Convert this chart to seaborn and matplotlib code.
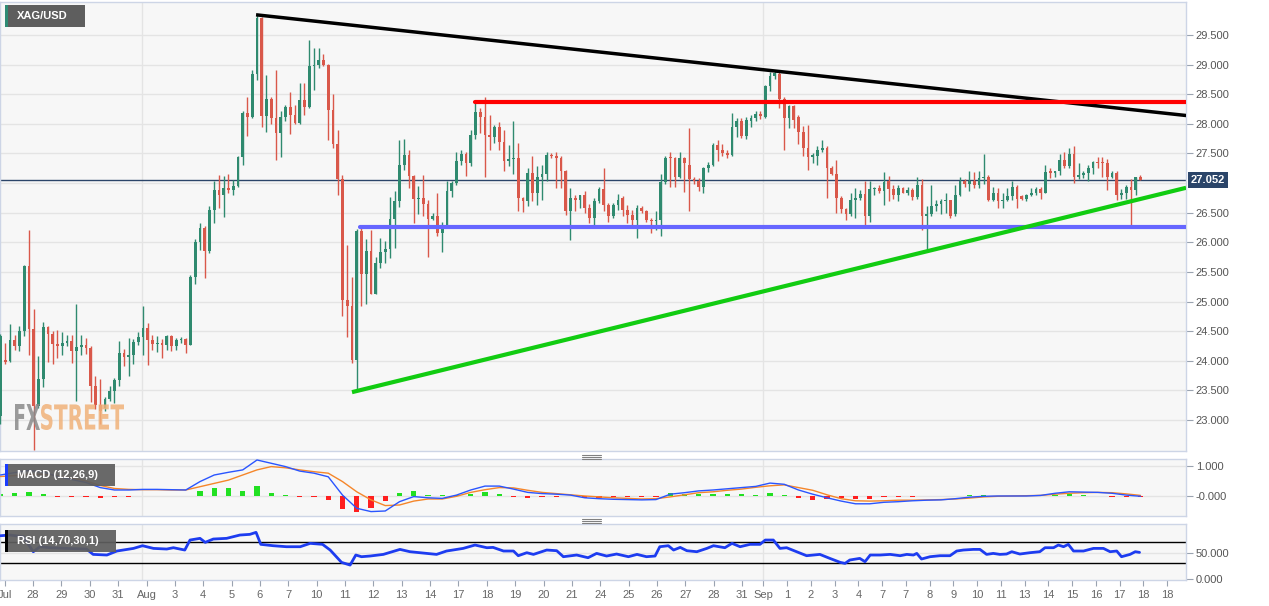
import numpy as np
import pandas as pd
import seaborn as sns
import matplotlib.pyplot as plt
from matplotlib.patches import Rectangle, PathPatch
from matplotlib.textpath import TextPath
from matplotlib.font_manager import FontProperties
from matplotlib.transforms import Affine2D, IdentityTransform, blended_transform_factory

W, H = 1269, 606

# XAG/USD 4h candles, Jul 27 - Sep 17
opens = [
    23.07, 24.02, 23.99, 24.35, 24.25, 24.50, 25.60, 24.53, 23.24, 23.70,
    24.57, 24.45, 24.28, 24.25, 24.30, 24.34, 24.17, 24.24, 24.26, 24.22,
    23.57, 23.26, 23.20, 23.35, 23.49, 23.67, 24.13, 24.07, 24.09, 24.32,
    24.40, 24.56, 24.35, 24.28, 24.30, 24.26, 24.41, 24.25, 24.35, 24.36,
    24.27, 25.42, 26.01, 26.24, 25.85, 26.54, 26.88, 26.80, 26.92, 26.88,
    26.95, 27.44, 28.18, 28.12, 28.84, 29.78, 28.13, 28.42, 28.10, 27.85,
    28.12, 28.29, 28.15, 28.02, 28.40, 28.28, 28.97, 29.00, 29.08, 29.00,
    28.24, 27.66, 27.06, 25.03, 24.93, 24.01, 26.19, 25.47, 25.86, 25.13,
    25.65, 25.84, 25.88, 26.39, 26.69, 27.31, 27.48, 27.12, 26.73, 26.75,
    26.64, 26.39, 26.44, 26.16, 26.30, 26.86, 27.00, 27.37, 27.49, 27.34,
    27.81, 28.20, 28.11, 27.81, 27.78, 27.95, 27.70, 27.37, 27.40, 27.42,
    26.74, 26.69, 27.17, 26.83, 27.11, 27.15, 27.48, 27.45, 27.42, 27.21,
    26.52, 26.75, 26.72, 26.80, 26.58, 26.41, 26.69, 26.90, 26.63, 26.44,
    26.63, 26.74, 26.55, 26.46, 26.38, 26.58, 26.52, 26.38, 26.36, 26.38,
    27.01, 27.43, 27.43, 27.11, 27.42, 27.31, 27.07, 27.03, 26.94, 27.26,
    27.30, 27.645, 27.55, 27.51, 27.47, 27.94, 28.04, 27.79, 28.05, 28.10,
    28.17, 28.12, 28.64, 28.81, 28.84, 28.42, 28.10, 28.30, 28.11, 27.87,
    27.59, 27.44, 27.45, 27.55, 27.59, 27.25, 27.16, 26.75, 26.56, 26.47,
    26.72, 26.75, 26.81, 26.44, 26.90, 26.92, 26.86, 27.03, 26.90, 26.80,
    26.92, 26.84, 26.88, 26.76, 26.96, 26.45, 26.47, 26.62, 26.64, 26.69,
    26.72, 26.47, 26.80, 27.03, 26.99, 27.03, 26.97, 27.08, 27.11, 26.72,
    26.83, 26.69, 26.72, 26.78, 26.93, 26.78, 26.73, 26.80, 26.84, 26.90,
    26.84, 27.20, 27.17, 27.20, 27.39, 27.28, 27.49, 27.11, 27.14, 27.17,
    27.26, 27.35, 27.35, 27.33, 27.11, 27.17, 26.79, 26.83, 26.93, 26.89,
    27.10]
highs = [
    24.45, 24.30, 24.62, 24.43, 24.58, 25.61, 26.21, 24.88, 24.08, 24.66,
    24.58, 24.50, 24.52, 24.48, 24.43, 24.43, 24.96, 24.43, 24.39, 24.25,
    23.74, 23.70, 23.39, 23.57, 23.71, 24.33, 24.20, 24.39, 24.36, 24.48,
    24.93, 24.64, 24.43, 24.42, 24.36, 24.44, 24.44, 24.39, 24.40, 24.39,
    25.45, 26.05, 26.33, 26.27, 26.61, 27.03, 27.14, 27.12, 27.16, 27.05,
    27.45, 28.21, 28.46, 28.90, 29.84, 29.81, 28.83, 28.46, 28.91, 28.21,
    28.32, 28.53, 28.32, 28.69, 28.69, 29.42, 29.28, 29.28, 29.18, 29.01,
    28.50, 27.89, 27.14, 25.95, 25.42, 26.22, 26.27, 26.06, 26.21, 25.75,
    26.07, 26.02, 26.76, 26.86, 27.72, 27.74, 27.55, 27.14, 26.95, 27.14,
    26.71, 26.50, 26.84, 26.34, 27.03, 27.03, 27.52, 27.56, 27.52, 27.90,
    28.38, 28.27, 28.46, 28.15, 27.98, 28.03, 27.90, 27.65, 28.04, 27.67,
    26.77, 27.25, 27.45, 27.28, 27.31, 27.52, 27.50, 27.53, 27.46, 27.22,
    26.91, 26.80, 26.80, 26.86, 26.64, 26.75, 26.93, 27.26, 26.66, 26.66,
    26.81, 26.78, 26.63, 26.55, 26.63, 26.61, 26.54, 26.41, 26.52, 27.15,
    27.45, 27.52, 27.44, 27.53, 27.44, 27.93, 27.11, 27.09, 27.27, 27.35,
    27.67, 27.72, 27.66, 27.56, 28.19, 28.10, 28.10, 28.12, 28.15, 28.22,
    28.22, 28.66, 28.87, 28.90, 28.88, 28.46, 28.32, 28.32, 28.15, 27.97,
    27.98, 27.50, 27.62, 27.73, 27.62, 27.28, 27.39, 26.78, 26.58, 26.83,
    26.92, 26.89, 27.03, 27.03, 26.94, 26.97, 27.18, 27.12, 26.97, 26.97,
    26.94, 26.94, 26.92, 27.10, 27.06, 26.61, 26.97, 26.72, 26.73, 26.83,
    26.72, 26.97, 27.11, 27.06, 27.21, 27.18, 27.20, 27.49, 27.14, 26.93,
    26.92, 26.83, 26.92, 27.03, 26.96, 26.80, 26.82, 26.92, 26.93, 26.93,
    27.31, 27.25, 27.21, 27.49, 27.53, 27.59, 27.63, 27.33, 27.20, 27.31,
    27.38, 27.44, 27.44, 27.40, 27.20, 27.20, 26.90, 26.96, 27.07, 27.11,
    27.14]
lows = [
    22.93, 23.95, 23.98, 24.18, 24.16, 24.41, 24.10, 22.50, 23.21, 23.55,
    23.98, 23.95, 24.05, 24.09, 24.25, 23.96, 23.32, 24.10, 24.12, 23.30,
    23.18, 22.93, 23.15, 23.32, 23.29, 23.57, 23.91, 23.75, 23.94, 24.26,
    24.10, 23.93, 24.19, 24.14, 24.05, 24.19, 24.16, 24.19, 24.30, 24.13,
    24.26, 25.29, 25.87, 25.40, 25.82, 26.33, 26.58, 26.43, 26.83, 26.80,
    26.94, 27.31, 27.79, 28.10, 28.74, 27.94, 27.87, 28.00, 27.39, 27.44,
    28.04, 27.83, 28.00, 28.00, 28.15, 28.27, 28.57, 28.94, 28.97, 27.73,
    27.59, 26.80, 24.76, 24.40, 23.97, 23.49, 24.92, 24.96, 25.12, 25.12,
    25.57, 25.65, 25.74, 25.90, 26.60, 27.22, 26.92, 26.33, 26.47, 26.44,
    25.75, 26.37, 26.10, 25.83, 26.27, 26.76, 26.97, 27.31, 27.12, 27.28,
    27.75, 27.85, 27.11, 27.56, 27.67, 27.55, 27.20, 27.28, 27.16, 26.52,
    26.51, 26.61, 26.69, 26.63, 26.72, 27.03, 27.42, 26.91, 26.91, 26.46,
    26.04, 26.52, 26.58, 26.50, 26.33, 26.30, 26.66, 26.52, 26.35, 26.41,
    26.55, 26.45, 26.32, 26.30, 26.08, 26.50, 26.35, 26.16, 26.21, 26.10,
    26.99, 26.94, 26.94, 27.08, 26.85, 26.52, 26.98, 26.87, 26.83, 27.19,
    27.28, 27.37, 27.46, 27.43, 27.46, 27.77, 27.76, 27.74, 27.95, 28.05,
    28.08, 28.10, 28.55, 28.75, 28.26, 27.56, 27.93, 27.93, 27.66, 27.45,
    27.22, 27.34, 27.31, 27.53, 26.75, 27.14, 26.49, 26.49, 26.38, 26.44,
    26.41, 26.72, 26.30, 26.35, 26.80, 26.84, 26.63, 26.69, 26.73, 26.69,
    26.83, 26.80, 26.71, 26.73, 26.21, 25.87, 26.45, 26.52, 26.47, 26.49,
    26.41, 26.45, 26.78, 26.93, 26.86, 26.92, 26.92, 26.99, 26.69, 26.69,
    26.58, 26.58, 26.69, 26.72, 26.58, 26.72, 26.69, 26.78, 26.80, 26.73,
    26.83, 27.08, 27.11, 27.14, 27.25, 27.25, 27.00, 27.06, 27.08, 27.04,
    27.16, 27.25, 27.11, 26.89, 27.08, 26.72, 26.73, 26.73, 26.28, 26.80,
    27.05]
closes = [
    24.42, 23.98, 24.35, 24.25, 24.50, 25.60, 24.53, 23.24, 23.70, 24.57,
    24.45, 24.28, 24.25, 24.30, 24.34, 24.17, 24.24, 24.26, 24.22, 23.57,
    23.26, 23.15, 23.35, 23.49, 23.67, 24.13, 24.07, 24.09, 24.32, 24.40,
    24.56, 24.35, 24.28, 24.30, 24.26, 24.41, 24.25, 24.35, 24.36, 24.27,
    25.42, 26.01, 26.24, 25.85, 26.54, 26.88, 26.80, 26.92, 26.88, 26.95,
    27.44, 28.18, 28.12, 28.84, 29.78, 28.13, 28.42, 28.10, 27.85, 28.12,
    28.29, 28.15, 28.02, 28.40, 28.29, 28.97, 29.00, 29.08, 29.00, 28.24,
    27.66, 27.06, 25.03, 24.93, 24.01, 26.19, 25.47, 25.86, 25.13, 25.65,
    25.84, 25.88, 26.39, 26.69, 27.31, 27.48, 27.12, 26.73, 26.75, 26.64,
    26.39, 26.44, 26.16, 26.30, 26.86, 27.00, 27.37, 27.49, 27.34, 27.81,
    28.20, 28.11, 27.81, 27.78, 27.95, 27.70, 27.37, 27.40, 27.42, 26.74,
    26.69, 27.17, 26.83, 27.11, 27.15, 27.48, 27.45, 27.42, 27.21, 26.52,
    26.75, 26.72, 26.80, 26.58, 26.41, 26.69, 26.90, 26.63, 26.44, 26.63,
    26.72, 26.55, 26.46, 26.38, 26.58, 26.52, 26.38, 26.36, 26.38, 27.01,
    27.43, 27.42, 27.11, 27.42, 27.34, 27.07, 27.03, 26.94, 27.26, 27.30,
    27.645, 27.56, 27.51, 27.47, 27.94, 28.04, 27.79, 28.07, 28.10, 28.17,
    28.13, 28.64, 28.81, 28.85, 28.42, 28.10, 28.30, 28.06, 27.87, 27.59,
    27.44, 27.48, 27.55, 27.59, 27.25, 27.16, 26.75, 26.56, 26.48, 26.72,
    26.75, 26.81, 26.44, 26.90, 26.92, 26.86, 27.01, 26.90, 26.80, 26.92,
    26.84, 26.88, 26.76, 26.96, 26.45, 26.47, 26.62, 26.64, 26.69, 26.72,
    26.45, 26.80, 27.03, 26.99, 27.03, 26.97, 27.08, 27.11, 26.72, 26.83,
    26.69, 26.72, 26.78, 26.93, 26.73, 26.73, 26.80, 26.84, 26.90, 26.84,
    27.18, 27.17, 27.20, 27.39, 27.28, 27.49, 27.11, 27.14, 27.17, 27.26,
    27.35, 27.33, 27.33, 27.11, 27.17, 26.79, 26.83, 26.93, 26.89, 27.10,
    27.05]

day_labels = ['Jul', '28', '29', '30', '31', 'Aug', '3', '4', '5', '6', '7', '10', '11',
              '12', '13', '14', '17', '18', '19', '20', '21', '24', '25', '26', '27',
              '28', '31', 'Sep', '1', '2', '3', '4', '7', '7', '8', '9', '10', '11',
              '13', '14', '15', '16', '17', '18', '18']

# MACD(12,26,9) read every third bar
macd_line = [
    0.70, 0.78, 0.85, 0.80, 0.65, 0.55, 0.45, 0.28, 0.20, 0.20,
    0.22, 0.22, 0.21, 0.20, 0.48, 0.70, 0.79, 0.87, 1.20, 1.09,
    0.98, 0.83, 0.76, 0.64, 0.03, -0.41, -0.52, -0.50, -0.19, -0.02,
    -0.06, -0.08, 0.03, 0.20, 0.33, 0.33, 0.23, 0.12, 0.08, 0.06,
    0.03, -0.06, -0.09, -0.11, -0.12, -0.13, -0.12, 0.06, 0.11, 0.17,
    0.20, 0.24, 0.28, 0.32, 0.43, 0.39, 0.20, 0.06, -0.06, -0.17,
    -0.26, -0.26, -0.21, -0.19, -0.16, -0.14, -0.13, -0.09, -0.04, -0.01,
    0.00, 0.00, 0.00, 0.02, 0.09, 0.14, 0.13, 0.12, 0.09, 0.03,
    -0.01]
signal_line = [
    0.65, 0.68, 0.72, 0.72, 0.68, 0.60, 0.50, 0.35, 0.25, 0.22,
    0.21, 0.21, 0.20, 0.20, 0.31, 0.42, 0.53, 0.70, 0.87, 0.98,
    0.94, 0.87, 0.81, 0.76, 0.48, 0.14, -0.13, -0.32, -0.30, -0.17,
    -0.10, -0.10, -0.01, 0.12, 0.21, 0.28, 0.27, 0.19, 0.12, 0.08,
    0.04, 0.00, -0.03, -0.06, -0.08, -0.10, -0.09, -0.03, 0.04, 0.11,
    0.14, 0.19, 0.23, 0.29, 0.34, 0.37, 0.28, 0.19, 0.04, -0.09,
    -0.16, -0.17, -0.16, -0.14, -0.14, -0.13, -0.12, -0.10, -0.07, -0.03,
    -0.01, 0.00, 0.01, 0.02, 0.06, 0.09, 0.11, 0.12, 0.11, 0.07,
    0.02]

# RSI(14) read at its turning points
rsi_bar = [0, 2.0, 4.8, 6.9, 8.3, 10.4, 13.9, 18.1, 19.5, 22.4, 24.5, 28.0, 29.9,
           32.2, 35.0, 36.4, 38.8, 39.9, 42.0, 43.1, 44.8, 47.6, 50.4, 52.5, 53.8,
           54.8, 57.4, 60.2, 63.1, 65.2, 67.8, 69.4, 71.8, 73.6, 74.8, 76.0, 77.8,
           80.6, 84.1, 86.2, 88.3, 91.8, 93.9, 97.4, 99.9, 102.4, 103.7, 105.9,
           108.0, 109.0, 110.8, 112.2, 115.0, 117.1, 118.5, 121.3, 123.7, 125.5,
           127.6, 129.7, 132.2, 134.0, 136.0, 137.8, 138.8, 140.6, 141.7, 143.1,
           144.5, 146.6, 148.7, 150.1, 152.5, 154.0, 155.7, 157.8, 159.9, 161.0,
           162.7, 164.1, 165.5, 167.6, 169.7, 172.5, 174.6, 176.8, 177.8, 178.8,
           180.9, 182.0, 183.1, 185.2, 187.3, 189.4, 190.8, 192.2, 192.9, 193.9,
           195.7, 197.8, 199.9, 201.3, 202.7, 204.8, 206.2, 207.6, 209.0, 210.4,
           211.8, 212.9, 214.6, 216.7, 218.8, 219.9, 221.7, 222.7, 223.8, 224.8,
           225.9, 228.0, 230.1, 232.2, 233.6, 235.0, 236.0, 237.8, 238.9, 239.8]
rsi_val = [82.3, 83.6, 80.4, 51.9, 61.4, 59.5, 58.2, 57.0, 46.8, 45.6, 53.2, 58.2, 63.3,
           58.2, 57.0, 59.5, 55.1, 74.1, 77.3, 69.7, 76.0, 77.3, 83.6, 84.9, 88.7,
           65.9, 63.3, 61.4, 61.4, 67.8, 65.9, 55.1, 31.6, 26.5, 45.6, 42.4, 43.7,
           46.8, 56.3, 51.9, 50.0, 46.8, 53.2, 58.2, 64.6, 59.5, 60.1, 53.2,
           53.2, 44.3, 50.0, 46.8, 55.1, 53.8, 42.4, 45.6, 40.5, 48.7,
           43.7, 47.5, 42.4, 46.8, 42.4, 43.7, 61.4, 63.3, 55.1, 60.1,
           53.8, 51.9, 58.2, 63.3, 59.5, 67.8, 61.4, 65.9, 65.9, 74.1,
           74.1, 58.2, 59.5, 51.9, 44.3, 46.8, 39.2, 31.6, 29.7, 36.1,
           39.2, 32.9, 45.6, 45.6, 46.8, 44.3, 46.8, 45.6, 48.7, 38.0,
           42.4, 44.3, 44.3, 53.2, 55.1, 56.3, 56.3, 46.8, 48.7, 46.8,
           47.5, 51.9, 47.5, 50.0, 51.9, 59.5, 59.5, 64.6, 61.4, 65.9,
           53.2, 53.2, 58.2, 58.2, 51.9, 53.2, 42.4, 46.8, 51.9, 50.6]

last_price = 27.052
# drawn trendlines: (bar, price) -> (bar, price)
line_black = ((53.8, 29.84), (249.6, 28.14))
line_green = ((74.0, 23.47), (249.6, 26.92))
level_red = (99.9, 28.37)
level_blue = (75.7, 26.26)

sns.set_theme(style='white')
plt.rcParams['font.family'] = ['Liberation Sans', 'DejaVu Sans']

candles = pd.DataFrame({'open': opens, 'high': highs, 'low': lows, 'close': closes})
candles['bar'] = np.arange(len(candles))
candles['up'] = candles['close'] >= candles['open']

ind = pd.DataFrame({'bar': np.arange(0, len(candles), 3), 'macd': macd_line, 'signal': signal_line})
ind['histo'] = ind['macd'] - ind['signal']

fig = plt.figure(figsize=(W / 100, H / 100), dpi=100)
fig.patch.set_facecolor('white')


def px_axes(x0, y0, x1, y1):
    return fig.add_axes([x0 / W, 1 - y1 / H, (x1 - x0) / W, (y1 - y0) / H])


def px_box(x0, y0, x1, y1, color, alpha=1.0):
    fig.add_artist(Rectangle((x0, H - y1), x1 - x0, y1 - y0, transform=IdentityTransform(),
                             facecolor=color, edgecolor='none', alpha=alpha, zorder=10))


ax = px_axes(0, 2, 1186, 451)
axm = px_axes(0, 459, 1186, 516)
axr = px_axes(0, 524, 1186, 580)

grid_c = '#e4e4e4'
for a in (ax, axm, axr):
    a.set_facecolor('#f7f7f7')
    for s in a.spines.values():
        s.set_color('#cdd5e6')
        s.set_linewidth(1)
    for d in (29.85, 160.6):
        a.axvline(d, color=grid_c, lw=1, zorder=0)

# main price panel
for v in np.arange(23.0, 29.51, 0.5):
    ax.axhline(v, color=grid_c, lw=1, zorder=0)
ax.axhline(last_price, color='#2b4569', lw=1, zorder=2)

col = np.where(candles['up'], '#2f8a6f', '#d9584a')
ax.vlines(candles['bar'], candles['low'], candles['high'], colors=col, lw=1, zorder=3)
body = (candles['close'] - candles['open']).abs().clip(lower=0.012)
ax.bar(candles['bar'], body, bottom=candles[['open', 'close']].min(axis=1), width=0.62,
       color=col, linewidth=0, zorder=4)

ax.plot([line_black[0][0], line_black[1][0]], [line_black[0][1], line_black[1][1]],
        color='black', lw=2.5, zorder=5, solid_capstyle='butt')
ax.plot([level_red[0], 249.6], [level_red[1]] * 2, color='#ff0000', lw=3, zorder=5)
ax.plot([level_blue[0], 249.6], [level_blue[1]] * 2, color='#6666ff', lw=3, zorder=5)
ax.plot([line_green[0][0], line_green[1][0]], [line_green[0][1], line_green[1][1]],
        color='#11cc11', lw=3, zorder=5, solid_capstyle='butt')

ax.set_ylim(22.477, 30.056)
main_ticks = [v for v in np.arange(23.0, 29.51, 0.5) if abs(v - 27.0) > 0.01]
ax.set_yticks(main_ticks)
ax.set_yticklabels([f'{v:.3f}' for v in main_ticks])

ax.annotate(f'{last_price:.3f}', xy=(1.0, last_price),
            xycoords=blended_transform_factory(ax.transAxes, ax.transData),
            xytext=(5, 0), textcoords='offset pixels', ha='left', va='center',
            color='white', fontsize=8, fontweight='bold', annotation_clip=False,
            bbox=dict(boxstyle='square,pad=0.25', fc='#2b4569', ec='none'))

# MACD panel
axm.axhline(0, color=grid_c, lw=1, zorder=0)
axm.axhline(1, color=grid_c, lw=1, zorder=0)
axm.bar(ind['bar'], ind['histo'], width=1.1, linewidth=0, zorder=2,
        color=np.where(ind['histo'] >= 0, '#22e022', '#ff1f1f'))
sns.lineplot(x=ind['bar'], y=ind['signal'], ax=axm, color='#f5862a', lw=1, zorder=3)
sns.lineplot(x=ind['bar'], y=ind['macd'], ax=axm, color='#2a55ff', lw=1, zorder=4)
axm.set_ylim(-0.667, 1.233)
axm.set_yticks([0, 1])
axm.set_yticklabels(['-0.000', '1.000'])

# RSI panel
axr.axhline(50, color=grid_c, lw=1, zorder=0)
axr.axhline(70, color='black', lw=1, zorder=1)
axr.axhline(30, color='black', lw=1, zorder=1)
sns.lineplot(x=rsi_bar, y=rsi_val, ax=axr, color='#1d3cf0', lw=2, zorder=3)
axr.set_ylim(-1.9, 104.6)
axr.set_yticks([0, 50])
axr.set_yticklabels(['0.000', '50.000'])

tick_pos = np.r_[0.9 + 5.97 * np.arange(27), 160.6 + 5 * np.arange(18)]
for a in (ax, axm, axr):
    a.set_xlim(-0.105, 249.58)
    a.set_xlabel('')
    a.set_ylabel('')
    a.yaxis.tick_right()
    a.tick_params(axis='y', length=5, width=0.8, color='#9aa3b0', labelsize=8,
                  labelcolor='#555555', pad=2, right=True, left=False)
    a.tick_params(axis='x', bottom=False, labelbottom=False)
axr.set_xticks(tick_pos)
axr.set_xticklabels(day_labels)
axr.tick_params(axis='x', bottom=True, labelbottom=True, length=4, width=0.8,
                color='#9aa3b0', labelsize=8, labelcolor='#666666', pad=3)

# label boxes
px_box(5, 5, 85, 27, '#5e5e5e')
px_box(5, 5, 8, 27, '#2e8b74')
fig.text(17 / W, 1 - 16 / H, 'XAG/USD', color='white', fontsize=8, fontweight='bold',
         va='center', zorder=12)
px_box(5, 464, 115, 486, '#5e5e5e', 0.93)
px_box(5, 464, 7.5, 486, '#1a3cff')
fig.text(17 / W, 1 - 475 / H, 'MACD (12,26,9)', color='white', fontsize=8, fontweight='bold',
         va='center', zorder=12)
px_box(5, 530, 116, 552, '#5e5e5e', 0.93)
px_box(5, 530, 7.5, 552, '#000000')
fig.text(17 / W, 1 - 541 / H, 'RSI (14,70,30,1)', color='white', fontsize=8, fontweight='bold',
         va='center', zorder=12)

# panel resize handles
for yy in (454.5, 456.5, 458.5, 518.5, 520.5, 522.5):
    fig.add_artist(plt.Line2D([582, 601], [H - yy, H - yy], transform=IdentityTransform(),
                              color='#808080', lw=0.8))

# FXSTREET watermark, condensed letters
fp = FontProperties(family='DejaVu Sans', weight='bold')
for word, x0, x1, c, al in (('FX', 15, 40, '#8a8a8a', 0.85), ('STREET', 41, 124, '#f0b27a', 0.85)):
    tp = TextPath((0, 0), word, size=1, prop=fp)
    ext = tp.get_extents()
    tr = Affine2D().translate(-ext.x0, -ext.y0).scale((x1 - x0) / ext.width, 26 / ext.height) \
        .translate(x0, H - 430)
    fig.add_artist(PathPatch(tr.transform_path(tp), transform=IdentityTransform(),
                             facecolor=c, edgecolor='none', alpha=al, zorder=9))

fig.savefig('out.png', dpi=100, facecolor='white')
